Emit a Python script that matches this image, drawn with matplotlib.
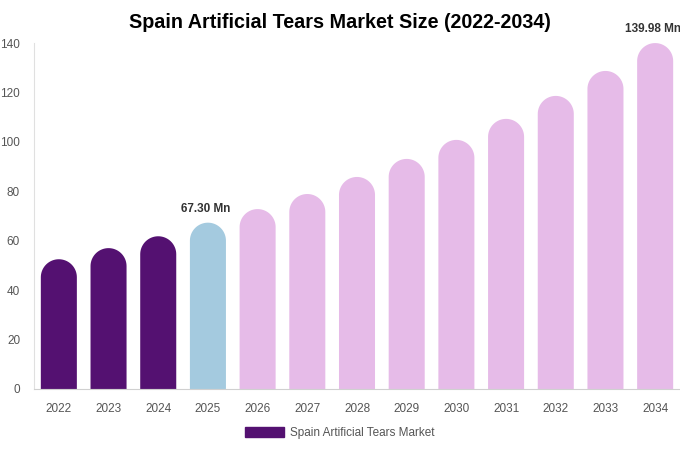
import matplotlib.pyplot as plt
from matplotlib.patches import Polygon, Rectangle
import numpy as np

plt.rcParams['font.family'] = ['Liberation Sans', 'DejaVu Sans']

# donnees
years = ['2022', '2023', '2024', '2025', '2026', '2027', '2028',
         '2029', '2030', '2031', '2032', '2033', '2034']
values = [52.5, 57.0, 61.8, 67.30, 72.8, 78.9, 85.8,
          93.1, 100.8, 109.3, 118.6, 128.7, 139.98]
colors = ['#541171'] * 3 + ['#A4CADF'] + ['#E6BBE8'] * 9
labels = {3: '67.30 Mn', 12: '139.98 Mn'}

fig = plt.figure(figsize=(6.8, 4.5), dpi=100)
ax = fig.add_axes([0.05, 0.1356, 0.95, 0.7688])
ax.set_xlim(-0.5, 12.5)
ax.set_ylim(0, 140)

W = 0.725
# rayon du haut arrondi en unites de donnees (axe y)
px_per_unit_y = 0.7688 * 450 / 140
px_per_unit_x = 0.95 * 680 / 13
ry = (W * px_per_unit_x / 2) / px_per_unit_y
t = np.linspace(np.pi, 0, 40)

for i, (v, c) in enumerate(zip(values, colors)):
    xs = np.concatenate([[i - W / 2], i + W / 2 * np.cos(t), [i + W / 2]])
    ys = np.concatenate([[0], v - ry + ry * np.sin(t), [0]])
    ax.add_patch(Polygon(np.column_stack([xs, ys]), closed=True,
                         facecolor=c, edgecolor='none'))
    if i in labels:
        ax.text(i - 0.05, v + 3.3, labels[i], ha='center', va='bottom',
                fontsize=8.5, fontweight='bold', color='#333333')

ax.set_xticks(range(len(years)))
ax.set_xticklabels(years)
ax.set_yticks(np.arange(0, 141, 20))
ax.tick_params(length=0, labelsize=8.5, colors='#555555', pad=10)
ax.tick_params(axis='y', pad=10)
for s in ['top', 'right']:
    ax.spines[s].set_visible(False)
ax.spines['left'].set_color('#e0e0e0')
ax.spines['bottom'].set_color('#d0d0d0')

fig.suptitle('Spain Artificial Tears Market Size (2022-2034)', x=0.5, y=0.97,
             fontsize=14.2, fontweight='bold')

# legende
leg = ax.legend(handles=[Rectangle((0, 0), 1, 1, color='#541171')],
                labels=['Spain Artificial Tears Market'],
                loc='center', bbox_to_anchor=(0.5, 0.038),
                bbox_transform=fig.transFigure, frameon=False,
                handlelength=3.3, handleheight=0.9, handletextpad=0.5,
                fontsize=8.5)
for t in leg.get_texts():
    t.set_color('#555555')

fig.savefig('out.png', dpi=100)
